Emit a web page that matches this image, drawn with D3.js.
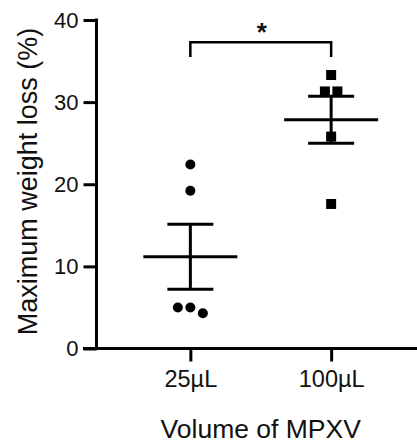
<!DOCTYPE html>
<html>
<head>
<meta charset="utf-8">
<script src="https://cdn.jsdelivr.net/npm/d3@7"></script>
<style>
  html, body { margin: 0; padding: 0; background: #fff; }
  svg { display: block; font-family: "Liberation Sans", Arial, sans-serif; }
  .axis path, .axis line { stroke: #000; stroke-width: 3; }
  .axis text { fill: #111; }
  .y.axis text { font-size: 22px; }
  .x.axis text { font-size: 23.5px; }
</style>
</head>
<body>
<div id="chart"></div>
<script>
// values
const GROUPS = ["25µL", "100µL"];
const VALUES_25 = [22.4, 19.2, 5.0, 5.0, 4.3];
const VALUES_100 = [33.3, 31.3, 31.3, 25.8, 17.6];
const Y_TICKS = [0, 10, 20, 30, 40];
const SIG = [{from: "25µL", to: "100µL", label: "*", y: 37.3, tip: 35.5}];

const W = 417, H = 445;
const svg = d3.select("#chart").append("svg").attr("width", W).attr("height", H);

const y = d3.scaleLinear().domain([0, 40]).range([348.5, 20]);
const x = d3.scalePoint().domain(GROUPS).range([96.5, 425]).padding(2/3);

const series = [
  {key: "25µL", values: VALUES_25, shape: "circle"},
  {key: "100µL", values: VALUES_100, shape: "square"}
];

// y axis
svg.append("g").attr("class", "y axis")
  .attr("transform", "translate(96.5,0)")
  .call(d3.axisLeft(y).tickValues(Y_TICKS).tickSize(13).tickSizeOuter(0).tickPadding(5))
  .call(g => g.select(".domain").attr("d", `M0,${y(40) - 1.5}V${y(0)}`));

// x axis
svg.append("g").attr("class", "x axis")
  .attr("transform", `translate(0,${y(0)})`)
  .call(d3.axisBottom(x).tickSize(13).tickSizeOuter(0).tickPadding(9))
  .call(g => g.select(".domain").attr("d", `M83,0H${W}`));

// axis titles
svg.append("text")
  .attr("transform", `translate(37,181.5) rotate(-90)`)
  .attr("text-anchor", "middle")
  .style("font-size", "27px").attr("fill", "#111")
  .text("Maximum weight loss (%)");

svg.append("text")
  .attr("x", (x("25µL") + x("100µL")) / 2).attr("y", 438)
  .attr("text-anchor", "middle")
  .style("font-size", "26.5px").attr("fill", "#111")
  .text("Volume of MPXV");

// spread points that would overlap (like a scatter dot plot)
function spread(vals, cx) {
  const pts = vals.map(v => ({v, py: y(v)})).sort((a, b) => a.py - b.py);
  const out = [];
  let cluster = [];
  const flush = () => {
    const n = cluster.length;
    cluster.forEach((p, i) => out.push({v: p.v, px: cx + (i - (n - 1) / 2) * 12.5, py: p.py}));
    cluster = [];
  };
  pts.forEach(p => {
    if (cluster.length && p.py - cluster[cluster.length - 1].py > 9) flush();
    cluster.push(p);
  });
  flush();
  return out;
}

series.forEach(s => {
  const cx = x(s.key);
  const mean = d3.mean(s.values);
  const sem = d3.deviation(s.values) / Math.sqrt(s.values.length);
  const g = svg.append("g");

  g.append("line").attr("x1", cx).attr("x2", cx)
    .attr("y1", y(mean + sem)).attr("y2", y(mean - sem))
    .attr("stroke", "#000").attr("stroke-width", 3);
  [mean + sem, mean - sem].forEach(v => g.append("line")
    .attr("x1", cx - 23).attr("x2", cx + 23).attr("y1", y(v)).attr("y2", y(v))
    .attr("stroke", "#000").attr("stroke-width", 3));
  g.append("line").attr("x1", cx - 47).attr("x2", cx + 47)
    .attr("y1", y(mean)).attr("y2", y(mean))
    .attr("stroke", "#000").attr("stroke-width", 3);

  const pts = spread(s.values, cx);
  if (s.shape === "circle") {
    g.selectAll("circle").data(pts).join("circle")
      .attr("cx", d => d.px).attr("cy", d => d.py).attr("r", 5).attr("fill", "#000");
  } else {
    g.selectAll("rect").data(pts).join("rect")
      .attr("x", d => d.px - 5).attr("y", d => d.py - 5)
      .attr("width", 10).attr("height", 10).attr("fill", "#000");
  }
});

// significance bracket
SIG.forEach(s => {
  const x1 = x(s.from), x2 = x(s.to);
  svg.append("path")
    .attr("d", `M${x1},${y(s.tip)}V${y(s.y)}H${x2}V${y(s.tip)}`)
    .attr("fill", "none").attr("stroke", "#000").attr("stroke-width", 2.5);
  svg.append("text")
    .attr("x", (x1 + x2) / 2 + 1).attr("y", y(s.y) - 1)
    .attr("text-anchor", "middle")
    .style("font-size", "26px").style("font-weight", "bold").attr("fill", "#111")
    .text(s.label);
});
</script>
</body>
</html>
